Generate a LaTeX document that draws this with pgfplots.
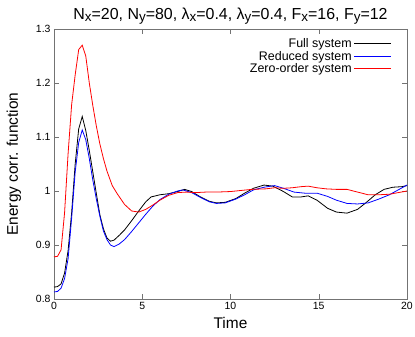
\documentclass[border=0pt]{standalone}
\usepackage{pgfplots}
\pgfplotsset{compat=1.18}
\usepackage{fontspec}
\setmainfont{Liberation Sans}
\definecolor{frame}{gray}{0.45}
\newcommand\sub[1]{\raisebox{-0.3ex}{\fontsize{13.5}{13.5}\selectfont #1}}
\newcommand\legfont{\fontsize{12.5}{14}\selectfont}

\begin{document}
\begin{tikzpicture}
\begin{axis}[
    scale only axis,
    width=353bp, height=270bp,
    xmin=0, xmax=20, ymin=0.8, ymax=1.3,
    xtick={0,5,10,15,20},
    ytick={0.8,0.9,1,1.1,1.2,1.3},
    /pgf/number format/assume math mode=true,
    yticklabel style={/pgf/number format/fixed},
    tick label style={font=\fontsize{10.5}{12}\selectfont},
    axis line style={frame},
    major tick style={frame},
    major tick length=5bp,
    xlabel={Time},
    ylabel={Energy corr. function},
    label style={font=\fontsize{15.5}{17}\selectfont},
    xlabel style={yshift=-1bp},
    ylabel style={yshift=8bp},
    title={N\sub{x}=20, N\sub{y}=80, λ\sub{x}=0.4, λ\sub{y}=0.4, F\sub{x}=16, F\sub{y}=12},
    title style={font=\fontsize{16}{18}\selectfont, yshift=-5bp},
    legend plot pos=right,
    legend cell align=right,
    legend style={at={(0.965,0.98)}, anchor=north east, draw=none, fill=none,
        nodes={font=\legfont}, row sep=-2bp},
    legend image code/.code={\draw[#1] (0bp,0bp) -- (37bp,0bp);},
]
\addplot[black, thick] coordinates {
(0,0.822) (0.2,0.823) (0.4,0.828) (0.6,0.848) (0.8,0.89) (1.0,0.96)
(1.2,1.05) (1.4,1.115) (1.6,1.138) (1.8,1.112) (2.0,1.075) (2.2,1.035)
(2.4,0.995) (2.6,0.956) (2.8,0.93) (3.0,0.913) (3.2,0.907) (3.4,0.909)
(3.7,0.918) (4.0,0.928) (4.4,0.945) (4.8,0.963) (5.2,0.98) (5.5,0.989)
(6.0,0.993) (6.5,0.995) (7.0,0.999) (7.4,1.003) (7.8,0.999) (8.3,0.989)
(8.8,0.981) (9.2,0.978) (9.7,0.979) (10.3,0.986) (10.8,0.996) (11.3,1.005)
(11.9,1.011) (12.4,1.009) (13.0,0.999) (13.5,0.989) (14.0,0.989) (14.4,0.991)
(14.9,0.983) (15.5,0.968) (16.0,0.961) (16.6,0.959) (17.2,0.966) (17.7,0.979)
(18.2,0.993) (18.7,1.003) (19.2,1.007) (19.7,1.008) (20,1.01)
};
\addlegendentry{\legfont Full system}
\addplot[blue, thick] coordinates {
(0,0.813) (0.2,0.814) (0.4,0.82) (0.6,0.838) (0.8,0.875) (1.0,0.95)
(1.2,1.035) (1.4,1.09) (1.6,1.113) (1.8,1.095) (2.0,1.06) (2.2,1.02)
(2.4,0.985) (2.6,0.953) (2.8,0.926) (3.0,0.91) (3.2,0.9) (3.4,0.897)
(3.7,0.902) (4.0,0.91) (4.4,0.925) (4.8,0.941) (5.2,0.957) (5.6,0.972)
(6.0,0.984) (6.5,0.994) (7.0,1.0) (7.3,1.002) (7.8,0.997) (8.3,0.988)
(8.8,0.98) (9.2,0.977) (9.7,0.978) (10.3,0.985) (10.8,0.993) (11.3,1.002)
(11.9,1.007) (12.5,1.01) (13.0,1.005) (13.6,0.998) (14.2,0.996) (14.9,0.996)
(15.5,0.99) (16.0,0.983) (16.6,0.977) (17.2,0.976) (17.8,0.978) (18.4,0.985)
(19.0,0.993) (19.5,1.002) (20,1.011)
};
\addlegendentry{\legfont Reduced system}
\addplot[red, thick] coordinates {
(0,0.878) (0.2,0.879) (0.4,0.891) (0.6,0.96) (0.8,1.07) (1.0,1.16)
(1.2,1.215) (1.4,1.262) (1.6,1.27) (1.8,1.25) (2.0,1.2) (2.2,1.158)
(2.4,1.12) (2.6,1.087) (2.8,1.06) (3.0,1.037) (3.3,1.01) (3.6,0.994)
(4.0,0.975) (4.4,0.963) (4.8,0.961) (5.2,0.966) (5.6,0.974) (6.0,0.983)
(6.5,0.992) (7.0,0.997) (7.5,0.998) (8.0,0.997) (8.6,0.998) (9.2,0.998)
(10.0,0.999) (10.6,1.001) (11.2,1.003) (12.0,1.004) (12.5,1.006) (13.0,1.005)
(13.5,1.006) (14.0,1.008) (14.4,1.009) (14.9,1.006) (15.4,1.004) (16.0,1.003)
(16.6,1.003) (17.2,0.998) (17.8,0.993) (18.4,0.993) (19.0,0.994) (19.5,0.997)
(20,1.0)
};
\addlegendentry{\legfont Zero-order system}
\end{axis}
\pgfresetboundingbox
\path (current axis.south west) ++(-54bp,-38bp) coordinate (bl);
\path (current axis.north east) ++(8bp,29bp) coordinate (tr);
\useasboundingbox (bl) rectangle (tr);
\end{tikzpicture}
\end{document}
